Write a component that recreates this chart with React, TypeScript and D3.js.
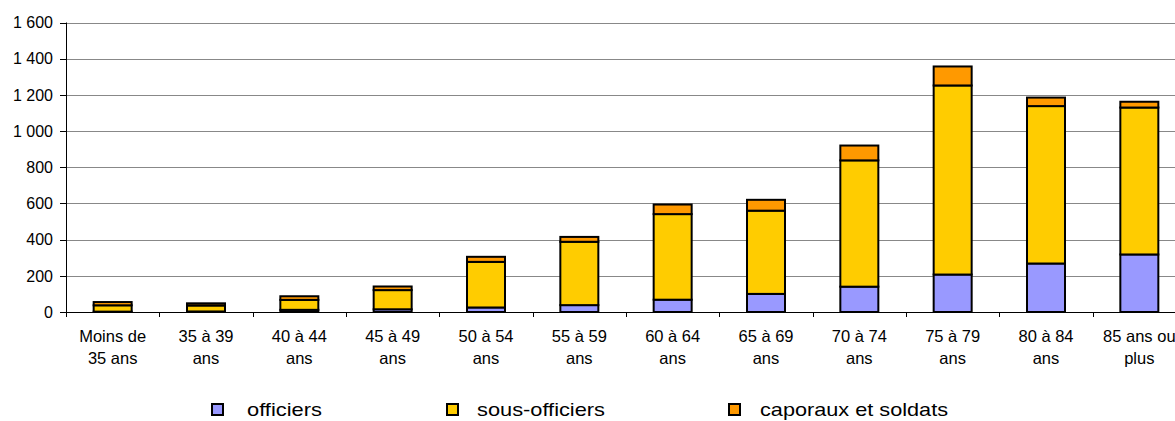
import React from "react";
import * as d3 from "d3";

const categories: string[][] = [
  ["Moins de", "35 ans"],
  ["35 à 39", "ans"],
  ["40 à 44", "ans"],
  ["45 à 49", "ans"],
  ["50 à 54", "ans"],
  ["55 à 59", "ans"],
  ["60 à 64", "ans"],
  ["65 à 69", "ans"],
  ["70 à 74", "ans"],
  ["75 à 79", "ans"],
  ["80 à 84", "ans"],
  ["85 ans ou", "plus"],
];

const officiers = [2, 3, 12, 15, 25, 38, 68, 100, 140, 207, 268, 318];
const sousOfficiers = [35, 33, 55, 106, 252, 350, 473, 460, 698, 1045, 870, 812];
const caporaux = [18, 12, 20, 20, 28, 27, 53, 60, 82, 105, 47, 32];

const seriesNames = ["officiers", "sous-officiers", "caporaux et soldats"];
const seriesColors = ["#9999FF", "#FFCC00", "#FF9900"];
const yTicks = [0, 200, 400, 600, 800, 1000, 1200, 1400, 1600];

const FONT = "'Liberation Sans', Arial, sans-serif";

export default function App() {
  const W = 1175;
  const H = 421;
  const left = 66;
  const right = 1186;
  const top = 22.5;
  const bottom = 312;

  const keys = categories.map((_, i) => String(i));
  const x = d3.scaleBand<string>().domain(keys).range([left, right]).paddingInner(0).paddingOuter(0);
  const y = d3.scaleLinear().domain([0, 1600]).range([bottom, top]);
  const barW = 38;

  const rows = categories.map((_, i) => ({
    key: String(i),
    s0: officiers[i],
    s1: sousOfficiers[i],
    s2: caporaux[i],
  }));
  const stack = d3.stack<any>().keys(["s0", "s1", "s2"]);
  const stacked = stack(rows);

  const fmt = d3.formatLocale({ decimal: ",", thousands: "\u00a0", grouping: [3], currency: ["", "€"] }).format(",d");

  const legendX = [211, 446, 728];
  const legendTextX = [247, 477, 760];
  const legendLen = [75, 128, 188];

  return (
    <svg
      width={W}
      height={H}
      style={{ position: "absolute", left: 0, top: 0, background: "#fff" }}
      fontFamily={FONT}
    >
      <rect x={0} y={0} width={W} height={H} fill="#fff" />
      {/* gridlines */}
      {yTicks.map((t) => (
        <line key={"g" + t} x1={left} x2={W} y1={Math.round(y(t)) + 0.5} y2={Math.round(y(t)) + 0.5} stroke="#888" strokeWidth={1} />
      ))}
      {/* y tick labels + ticks */}
      {yTicks.map((t) => (
        <g key={"yt" + t}>
          <line x1={60} x2={left} y1={Math.round(y(t)) + 0.5} y2={Math.round(y(t)) + 0.5} stroke="#000" />
          <text x={53} y={y(t)} dy="0.36em" textAnchor="end" fontSize={16} fill="#000">
            {fmt(t)}
          </text>
        </g>
      ))}
      {/* bars */}
      {stacked.map((layer, si) =>
        layer.map((d, i) => {
          const cx = (x(keys[i]) as number) + x.bandwidth() / 2;
          const y0 = y(d[0]);
          const y1 = y(d[1]);
          return (
            <rect
              key={si + "-" + i}
              x={cx - barW / 2}
              y={y1}
              width={barW}
              height={Math.max(0, y0 - y1)}
              fill={seriesColors[si]}
              stroke="#000"
              strokeWidth={2}
            />
          );
        })
      )}
      {/* axes */}
      <line x1={left + 0.5} x2={left + 0.5} y1={top} y2={bottom} stroke="#000" />
      <line x1={left} x2={W} y1={bottom + 0.5} y2={bottom + 0.5} stroke="#000" />
      {keys.map((k) => (
        <line key={"xt" + k} x1={Math.round(x(k) as number) + 0.5} x2={Math.round(x(k) as number) + 0.5} y1={bottom} y2={bottom + 5} stroke="#000" />
      ))}
      {/* x labels */}
      {categories.map((lines, i) => {
        const cx = (x(keys[i]) as number) + x.bandwidth() / 2;
        return (
          <text key={"xl" + i} textAnchor="middle" fontSize={16.5} fill="#000">
            <tspan x={cx} y={342}>{lines[0]}</tspan>
            <tspan x={cx} y={364}>{lines[1]}</tspan>
          </text>
        );
      })}
      {/* legend */}
      {seriesNames.map((n, i) => (
        <g key={"lg" + i}>
          <rect x={legendX[i] + 1} y={404} width={11} height={11} fill={seriesColors[i]} stroke="#000" strokeWidth={2} />
          <text x={legendTextX[i]} y={416} fontSize={19} fill="#000" textLength={legendLen[i]} lengthAdjust="spacingAndGlyphs">
            {n}
          </text>
        </g>
      ))}
    </svg>
  );
}
